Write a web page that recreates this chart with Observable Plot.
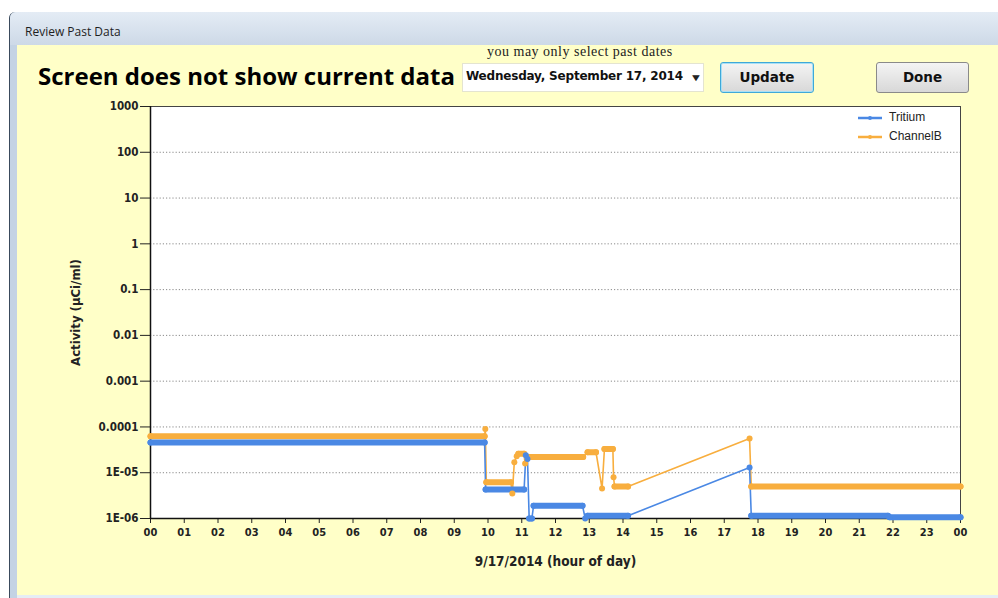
<!DOCTYPE html>
<html><head><meta charset="utf-8">
<script src="https://cdn.jsdelivr.net/npm/d3@7"></script>
<script src="https://cdn.jsdelivr.net/npm/@observablehq/plot@0.6"></script>
<style>
html,body{margin:0;padding:0}
body{width:998px;height:598px;overflow:hidden;background:#fff;position:relative;font-family:"Open Sans",sans-serif}
.abs{position:absolute}
#win{left:9px;top:12px;width:989px;height:586px;background:#c4d3e4;border-left:1px solid #3a4a5c;border-top-left-radius:6px;box-sizing:border-box}
#titlebar{left:10px;top:12px;width:988px;height:33px;background:linear-gradient(#e4ecf5,#cdd9e7);border-top-left-radius:6px}
#titletext{left:25px;top:23px;font-size:12px;color:#1e1e1e;font-family:"Open Sans",sans-serif}
#content{left:17px;top:45px;width:981px;height:553px;background:#ffffc8}
#bottom{left:17px;top:595px;width:981px;height:3px;background:#e6edf4}
#heading{left:38px;top:59px;font-size:24px;font-weight:bold;color:#000;font-family:"Open Sans",sans-serif;white-space:nowrap}
#hint{left:487px;top:44px;font-family:"Liberation Serif",serif;font-size:14px;letter-spacing:0.5px;color:#222;white-space:nowrap}
#drop{left:462px;top:63px;width:242px;height:29px;background:#fff;border:1px solid #e4e4d0;box-sizing:border-box}
#droptext{left:466px;top:69px;font-family:"DejaVu Sans",sans-serif;font-weight:bold;font-size:12px;color:#111;white-space:nowrap;letter-spacing:-0.2px}
#arrow{left:691px;top:70px;font-size:10px;color:#222;transform:scaleX(1.3)}
.btn{box-sizing:border-box;border-radius:3px;background:linear-gradient(#f4f4f4,#e6e6e6 50%,#d8d8d8);text-align:center;font-family:"DejaVu Sans",sans-serif;font-weight:bold;font-size:13.5px;color:#111}
#update{left:720px;top:62px;width:94px;height:31px;border:1px solid #3fa8d8;box-shadow:inset 0 0 0 1px #a8e0f5;line-height:29px}
#done{left:876px;top:62px;width:93px;height:31px;border:1px solid #8a8a8a;line-height:29px}
#chart{left:0;top:95px}
#legend{left:858px;top:110px;font-family:"Liberation Sans",Arial,sans-serif;font-size:12px;color:#222}
</style></head><body>
<div id="win" class="abs"></div>
<div id="titlebar" class="abs"></div>
<div id="titletext" class="abs">Review Past Data</div>
<div id="content" class="abs"></div>
<div id="bottom" class="abs"></div>
<div id="heading" class="abs">Screen does not show current data</div>
<div id="hint" class="abs">you may only select past dates</div>
<div id="drop" class="abs"></div>
<div id="droptext" class="abs">Wednesday, September 17, 2014</div>
<div id="arrow" class="abs">▼</div>
<div id="update" class="abs btn">Update</div>
<div id="done" class="abs btn">Done</div>
<div id="chart" class="abs"></div>
<div id="legend" class="abs"></div>
<script>
// ---- data (hour of day, activity µCi/ml) ----
const seriesNames = ["Tritium", "ChannelB"];
const seriesColors = ["#4a88e4", "#f8ae3e"];

const tritiumHours = [0, 9.9, 9.93, 11.07, 11.12, 11.17, 11.22, 11.3, 11.35, 12.8, 12.88, 12.95, 14.15, 17.75, 17.8, 21.85, 21.9, 24];
const tritiumValues = [4.6e-5, 4.6e-5, 4.3e-6, 4.3e-6, 2.4e-5, 2.0e-5, 1.0e-6, 1.0e-6, 1.9e-6, 1.9e-6, 1.0e-6, 1.15e-6, 1.15e-6, 1.3e-5, 1.15e-6, 1.15e-6, 1.06e-6, 1.06e-6];

const channelBHours = [0, 9.9, 9.92, 9.95, 10.68, 10.72, 10.78, 10.85, 10.9, 11.07, 11.1, 11.15, 11.2, 12.82, 12.95, 13.2, 13.38, 13.45, 13.7, 13.72, 13.75, 14.15, 17.75, 17.8, 24];
const channelBValues = [6.3e-5, 6.3e-5, 9e-5, 6.2e-6, 6.2e-6, 3.5e-6, 1.7e-5, 2.3e-5, 2.6e-5, 2.6e-5, 1.6e-5, 2.0e-5, 2.2e-5, 2.2e-5, 2.8e-5, 2.8e-5, 4.5e-6, 3.3e-5, 3.3e-5, 8e-6, 5e-6, 5e-6, 5.6e-5, 5e-6, 5e-6];

const yTicks = [1e-6, 1e-5, 1e-4, 1e-3, 1e-2, 1e-1, 1, 10, 100, 1000];
const yTickLabels = ["1E-06", "1E-05", "0.0001", "0.001", "0.01", "0.1", "1", "10", "100", "1000"];
const xTickLabels = ["00","01","02","03","04","05","06","07","08","09","10","11","12","13","14","15","16","17","18","19","20","21","22","23","00"];
const xTicks = xTickLabels.map((_, i) => i);

// ---- build tables ----
function pts(name, hs, vs) { return hs.map((t, i) => ({name, t, v: vs[i]})); }
const tri = pts("Tritium", tritiumHours, tritiumValues);
const chb = pts("ChannelB", channelBHours, channelBValues);
const drawOrder = [chb, tri];
const points = drawOrder.flat();
const runs = [];
for (const s of drawOrder) for (let i = 0; i + 1 < s.length; i++)
  if (s[i].v === s[i + 1].v) runs.push({name: s[i].name, t1: s[i].t, t2: s[i + 1].t, v: s[i].v});

const color = {domain: seriesNames, range: seriesColors};
const font = "'DejaVu Sans Condensed','DejaVu Sans',sans-serif";

const chart = Plot.plot({
  width: 998, height: 490,
  marginLeft: 150, marginRight: 38, marginTop: 11, marginBottom: 67,
  style: {background: "transparent", fontFamily: font, fontSize: "11px", fontWeight: "bold", color: "#222"},
  x: {domain: [0, 24]},
  y: {type: "log", domain: [1e-6, 1000]},
  color,
  marks: [
    Plot.frame({fill: "white", stroke: "#444"}),
    Plot.ruleY(yTicks.slice(1, -1), {stroke: "#8a8a8a", strokeDasharray: "1.2,2"}),
    Plot.axisY({ticks: yTicks, tickFormat: d => yTickLabels[yTicks.indexOf(d)], tickSize: 10, tickPadding: 2, stroke: "#222", fontSize: 11.5, label: null}),
    Plot.axisY({ticks: [], label: "Activity (µCi/ml)", labelAnchor: "center", labelArrow: "none", labelOffset: 80, fontSize: 13}),
    Plot.axisX({ticks: xTicks, tickFormat: d => xTickLabels[d], tickSize: 5, tickPadding: 5, stroke: "#222", label: null}),
    Plot.axisX({ticks: [], label: "9/17/2014 (hour of day)", labelAnchor: "center", labelArrow: "none", labelOffset: 47, fontSize: 13.5}),
    Plot.ruleX([0], {stroke: "#111", strokeWidth: 1.5}),
    Plot.ruleY([1e-6], {stroke: "#111", strokeWidth: 1.5}),
    Plot.line(points, {x: "t", y: "v", z: "name", stroke: "name", strokeWidth: 1.6}),
    Plot.link(runs, {x1: "t1", x2: "t2", y1: "v", y2: "v", stroke: "name", strokeWidth: 6, strokeLinecap: "round"}),
    Plot.dot(points, {x: "t", y: "v", fill: "name", r: 3})
  ]
});
document.getElementById("chart").appendChild(chart);

// legend
const lg = document.getElementById("legend");
lg.innerHTML = seriesNames.map((n, i) =>
  `<div style="position:absolute;left:0;top:${i * 19}px;width:120px;height:16px;white-space:nowrap">
     <svg width="26" height="16" style="position:absolute;left:0;top:0"><line x1="0" x2="24" y1="8" y2="8" stroke="${seriesColors[i]}" stroke-width="2.5"/><circle cx="12" cy="8" r="2" fill="${seriesColors[i]}"/></svg>
     <span style="position:absolute;left:31px;top:0">${n}</span></div>`).join("");
</script>
</body></html>
